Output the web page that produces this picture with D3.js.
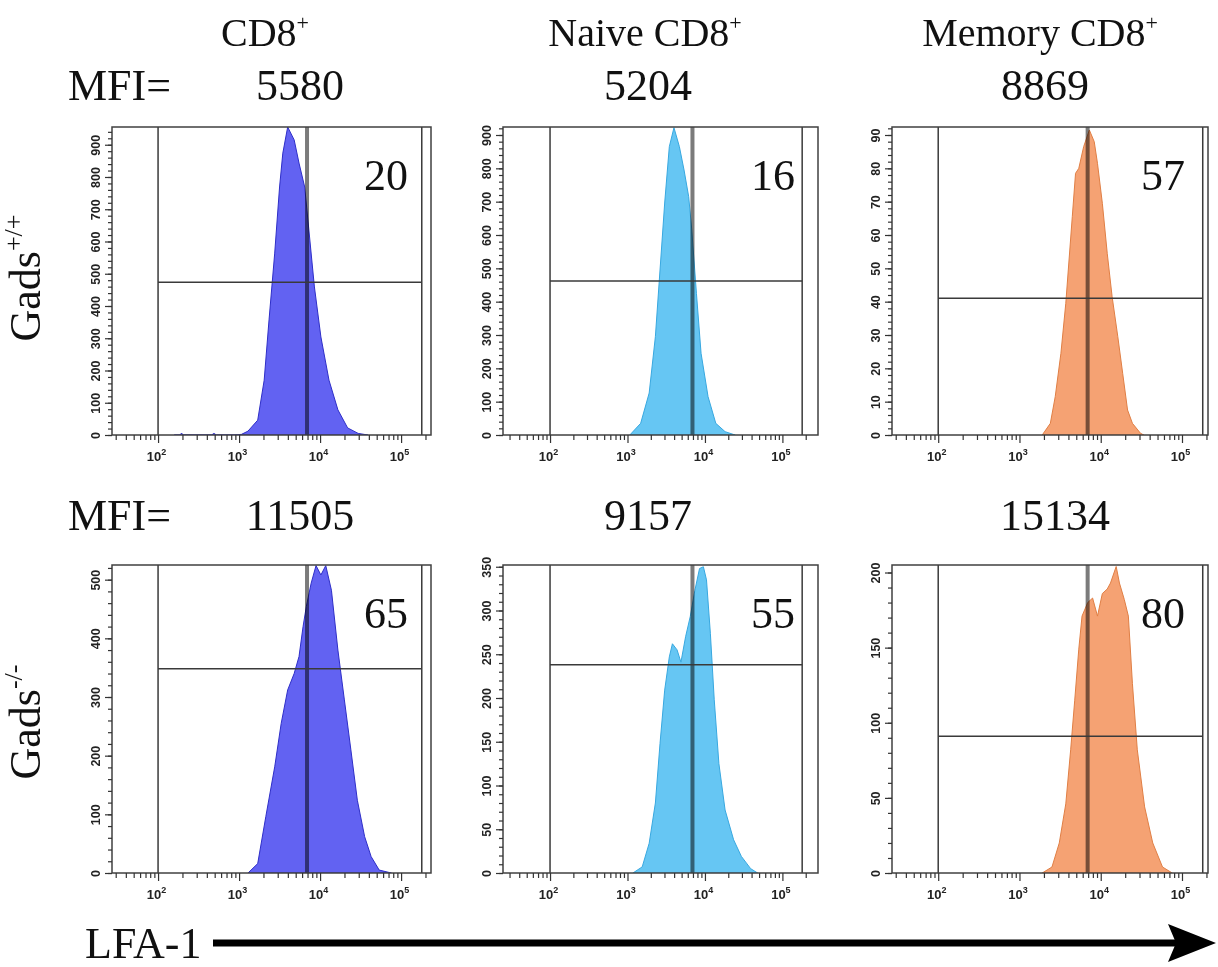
<!DOCTYPE html>
<html>
<head>
<meta charset="utf-8">
<script src="https://cdn.jsdelivr.net/npm/d3@7"></script>
<style>
  body { margin: 0; background: #fff; }
  svg { display: block; }
</style>
</head>
<body>
<svg id="chart" width="1218" height="967"></svg>
<script>
// ---- data ---------------------------------------------------------------
const titleTexts = ["CD8", "Naive CD8", "Memory CD8"];
const rowNames = ["Gads", "Gads"];
const rowSups = ["+/+", "-/-"];
const mfiWT = [5580, 5204, 8869];
const mfiKO = [11505, 9157, 15134];
const pctWT = [20, 16, 57];
const pctKO = [65, 55, 80];
const xTickExponents = [2, 3, 4, 5];

// fluorescence range shown, gate bounds and MFI marker position
const xDomain = [27, 234000];
const gateLow = 100;
const gateHigh = 180000;
const markerValue = 6900;

// event-count axis maxima, gate heights and tick steps, per panel
const yMaxWT = [955, 924, 92.4];
const yMaxKO = [525, 352, 205];
const gateYWT = [474, 462, 41];
const gateYKO = [348, 238, 91];
const majorStepWT = [100, 100, 10];
const minorStepWT = [20, 20, 2];
const majorStepKO = [100, 50, 50];
const minorStepKO = [20, 10, 10];

// histograms: [log10 LFA-1 intensity, events]
const cd8WT = [[2.2,0],[2.27,0],[2.29,6],[2.31,0],[2.66,0],[2.69,5],[2.72,0],[2.95,0],[3.03,2],[3.11,12],[3.23,46],[3.31,170],[3.37,357],[3.44,564],[3.50,769],[3.54,874],[3.60,955],[3.68,915],[3.74,843],[3.81,769],[3.87,614],[3.93,459],[4.01,304],[4.11,170],[4.22,78],[4.34,22],[4.47,5],[4.59,0]];
const naiveWT = [[3.03,0],[3.17,35],[3.28,126],[3.36,295],[3.42,495],[3.48,696],[3.54,865],[3.60,922],[3.67,865],[3.73,795],[3.79,715],[3.83,615],[3.89,425],[3.95,245],[4.04,115],[4.14,35],[4.26,10],[4.39,0]];
const memoryWT = [[3.28,0],[3.38,3.5],[3.44,11.5],[3.51,24.5],[3.57,39.5],[3.61,52.5],[3.65,65.5],[3.69,78.5],[3.73,80],[3.79,86.5],[3.86,91.5],[3.92,88],[3.96,81.5],[4.02,69.5],[4.08,54.5],[4.14,41.5],[4.21,29.5],[4.27,18.5],[4.33,7.5],[4.39,3.5],[4.49,0.5],[4.53,0]];
const cd8KO = [[3.11,0],[3.23,16],[3.33,96],[3.44,181],[3.52,255],[3.60,312],[3.68,340],[3.74,369],[3.79,420],[3.83,454],[3.89,494],[3.95,524],[4.01,508],[4.07,524],[4.14,482],[4.22,380],[4.30,295],[4.38,210],[4.46,124],[4.55,62],[4.63,28],[4.73,5],[4.88,0]];
const naiveKO = [[3.07,0],[3.19,7],[3.28,34],[3.36,80],[3.42,148],[3.48,209],[3.54,247],[3.58,262],[3.64,255],[3.69,241],[3.75,270],[3.81,293],[3.87,323],[3.93,348],[3.98,350],[4.02,335],[4.07,274],[4.12,198],[4.18,125],[4.26,72],[4.37,38],[4.47,19],[4.59,5],[4.68,0]];
const memoryKO = [[3.28,0],[3.40,4],[3.49,20],[3.57,46],[3.63,82],[3.68,115],[3.73,149],[3.77,171],[3.84,180],[3.90,183],[3.96,171],[4.02,186],[4.08,189],[4.12,193],[4.19,204],[4.23,193],[4.29,182],[4.34,171],[4.39,126],[4.45,82],[4.54,44],[4.64,20],[4.76,4],[4.88,0]];

// ---- layout / style -----------------------------------------------------
// x: frame left, w: frame width, r: pixel range of the fluorescence scale
const cols = [
  {x: 112, w: 319, r: [112, 431]},
  {x: 503, w: 315, r: [506, 811]},
  {x: 892, w: 316, r: [892, 1212]}
];
const rows = [{y: 127, h: 308}, {y: 565, h: 308}];
const fills = ["#6262f2", "#66c6f3", "#f5a273"];
const strokes = ["#2e2ec8", "#38a8e0", "#e07f45"];
const serif = "'Liberation Serif', 'Times New Roman', serif";
const sans = "'Liberation Sans', Arial, sans-serif";

const svg = d3.select("#chart");

const panels = [
  {row: 0, col: 0, data: cd8WT,    yMax: yMaxWT[0], gateY: gateYWT[0], major: majorStepWT[0], minor: minorStepWT[0], pct: pctWT[0]},
  {row: 0, col: 1, data: naiveWT,  yMax: yMaxWT[1], gateY: gateYWT[1], major: majorStepWT[1], minor: minorStepWT[1], pct: pctWT[1]},
  {row: 0, col: 2, data: memoryWT, yMax: yMaxWT[2], gateY: gateYWT[2], major: majorStepWT[2], minor: minorStepWT[2], pct: pctWT[2]},
  {row: 1, col: 0, data: cd8KO,    yMax: yMaxKO[0], gateY: gateYKO[0], major: majorStepKO[0], minor: minorStepKO[0], pct: pctKO[0]},
  {row: 1, col: 1, data: naiveKO,  yMax: yMaxKO[1], gateY: gateYKO[1], major: majorStepKO[1], minor: minorStepKO[1], pct: pctKO[1]},
  {row: 1, col: 2, data: memoryKO, yMax: yMaxKO[2], gateY: gateYKO[2], major: majorStepKO[2], minor: minorStepKO[2], pct: pctKO[2]}
];

// log-scale minor tick values 2..9 x 10^k inside the displayed range
const minorX = [];
for (let k = 1; k <= 5; k++) for (let m = 2; m <= 9; m++) {
  const v = m * Math.pow(10, k);
  if (v >= xDomain[0] && v <= xDomain[1]) minorX.push(v);
}

panels.forEach((p, i) => {
  const c = cols[p.col], r = rows[p.row];
  const x = d3.scaleLog().domain(xDomain).range(c.r);
  const y = d3.scaleLinear().domain([0, p.yMax]).range([r.y + r.h, r.y]);
  const g = svg.append("g");

  const clipId = "clip" + i;
  svg.append("clipPath").attr("id", clipId)
    .append("rect").attr("x", c.x).attr("y", r.y).attr("width", c.w).attr("height", r.h);

  // histogram
  const area = d3.area()
    .x(d => x(Math.pow(10, d[0])))
    .y0(y(0))
    .y1(d => y(d[1]));
  g.append("path").datum(p.data)
    .attr("clip-path", `url(#${clipId})`)
    .attr("d", area)
    .attr("fill", fills[p.col])
    .attr("stroke", strokes[p.col])
    .attr("stroke-width", 1);

  // MFI marker line
  g.append("line")
    .attr("x1", x(markerValue)).attr("x2", x(markerValue))
    .attr("y1", r.y).attr("y2", r.y + r.h)
    .attr("stroke", "#7b7b7b").attr("stroke-width", 4)
    .style("mix-blend-mode", "multiply");

  // range gate
  const gateStyle = sel => sel.attr("stroke", "#3a3a3a").attr("stroke-width", 1.5);
  g.append("line").attr("x1", x(gateLow)).attr("x2", x(gateLow))
    .attr("y1", r.y).attr("y2", r.y + r.h).call(gateStyle);
  g.append("line").attr("x1", x(gateHigh)).attr("x2", x(gateHigh))
    .attr("y1", r.y).attr("y2", r.y + r.h).call(gateStyle);
  g.append("line").attr("x1", x(gateLow)).attr("x2", x(gateHigh))
    .attr("y1", y(p.gateY)).attr("y2", y(p.gateY)).call(gateStyle);

  // frame
  g.append("rect").attr("x", c.x).attr("y", r.y).attr("width", c.w).attr("height", r.h)
    .attr("fill", "none").attr("stroke", "#404040").attr("stroke-width", 1.5);

  // y axis (counts), labels rotated
  const yMinor = d3.range(0, p.yMax + 1e-9, p.minor);
  const yMajor = d3.range(0, p.yMax + 1e-9, p.major);
  const yMinorAxis = d3.axisLeft(y).tickValues(yMinor).tickSize(4).tickFormat("");
  const yMajorAxis = d3.axisLeft(y).tickValues(yMajor).tickSize(7).tickFormat(d3.format("d"));
  const gy1 = g.append("g").attr("transform", `translate(${c.x},0)`).call(yMinorAxis);
  const gy2 = g.append("g").attr("transform", `translate(${c.x},0)`).call(yMajorAxis);
  [gy1, gy2].forEach(a => {
    a.select(".domain").remove();
    a.selectAll(".tick line").attr("stroke", "#333").attr("stroke-width", 1.2);
  });
  gy2.selectAll(".tick text")
    .attr("transform", "rotate(-90)")
    .attr("x", 0).attr("y", -12).attr("dy", 0)
    .style("text-anchor", "middle")
    .style("font-family", sans).style("font-weight", "bold").style("font-size", "12.5px")
    .attr("fill", "#222");

  // x axis (log)
  const xMinorAxis = d3.axisBottom(x).tickValues(minorX).tickSize(5).tickFormat("");
  const xMajorAxis = d3.axisBottom(x).tickValues(xTickExponents.map(e => Math.pow(10, e))).tickSize(8).tickFormat("");
  const gx1 = g.append("g").attr("transform", `translate(0,${r.y + r.h})`).call(xMinorAxis);
  const gx2 = g.append("g").attr("transform", `translate(0,${r.y + r.h})`).call(xMajorAxis);
  [gx1, gx2].forEach(a => {
    a.select(".domain").remove();
    a.selectAll(".tick line").attr("stroke", "#333").attr("stroke-width", 1.2);
  });
  gx2.selectAll(".tick").each(function(d, j) {
    const t = d3.select(this).append("text")
      .attr("x", -2).attr("y", 26)
      .attr("text-anchor", "middle")
      .style("font-family", sans).style("font-weight", "bold").style("font-size", "13px")
      .attr("fill", "#222");
    t.append("tspan").text("10");
    t.append("tspan").attr("dy", -6).attr("font-size", "9px").text(xTickExponents[j]);
  });

  // percentage in gate
  g.append("text")
    .attr("x", c.x + c.w - 45).attr("y", r.y + 63)
    .attr("text-anchor", "middle")
    .style("font-family", serif).style("font-size", "44px")
    .attr("fill", "#111")
    .text(p.pct);
});

// ---- column titles and MFI values ----------------------------------------
const titleX = [265, 645, 1040];
titleTexts.forEach((t, i) => {
  const txt = svg.append("text")
    .attr("x", titleX[i]).attr("y", 46)
    .attr("text-anchor", "middle")
    .style("font-family", serif).style("font-size", "40px")
    .attr("fill", "#111");
  txt.append("tspan").text(t);
  txt.append("tspan").attr("dy", -16).attr("font-size", "22px").text("+");
});

const mfiX = [[300, 648, 1045], [300, 648, 1055]];
const mfiY = [100, 530];
[mfiWT, mfiKO].forEach((vals, ri) => {
  svg.append("text")
    .attr("x", 68).attr("y", mfiY[ri])
    .style("font-family", serif).style("font-size", "44px")
    .attr("fill", "#111").text("MFI=");
  vals.forEach((v, ci) => {
    svg.append("text")
      .attr("x", mfiX[ri][ci]).attr("y", mfiY[ri])
      .attr("text-anchor", "middle")
      .style("font-family", serif).style("font-size", "44px")
      .attr("fill", "#111").text(v);
  });
});

// ---- row labels (genotype) -----------------------------------------------
const rowCenterY = [278, 722];
rowNames.forEach((n, i) => {
  const t = svg.append("text")
    .attr("transform", `translate(40,${rowCenterY[i]}) rotate(-90)`)
    .attr("text-anchor", "middle")
    .style("font-family", serif).style("font-size", "44px")
    .attr("fill", "#111");
  t.append("tspan").text(n);
  t.append("tspan").attr("dy", -18).attr("font-size", "26px").text(rowSups[i]);
});

// ---- LFA-1 axis arrow -----------------------------------------------------
svg.append("text")
  .attr("x", 85).attr("y", 958)
  .style("font-family", serif).style("font-size", "44px")
  .attr("fill", "#111").text("LFA-1");
svg.append("line")
  .attr("x1", 213).attr("x2", 1180).attr("y1", 943).attr("y2", 943)
  .attr("stroke", "#000").attr("stroke-width", 7);
svg.append("path")
  .attr("d", "M1168,924 L1216,943 L1168,962 L1176,943 Z")
  .attr("fill", "#000");
</script>
</body>
</html>
